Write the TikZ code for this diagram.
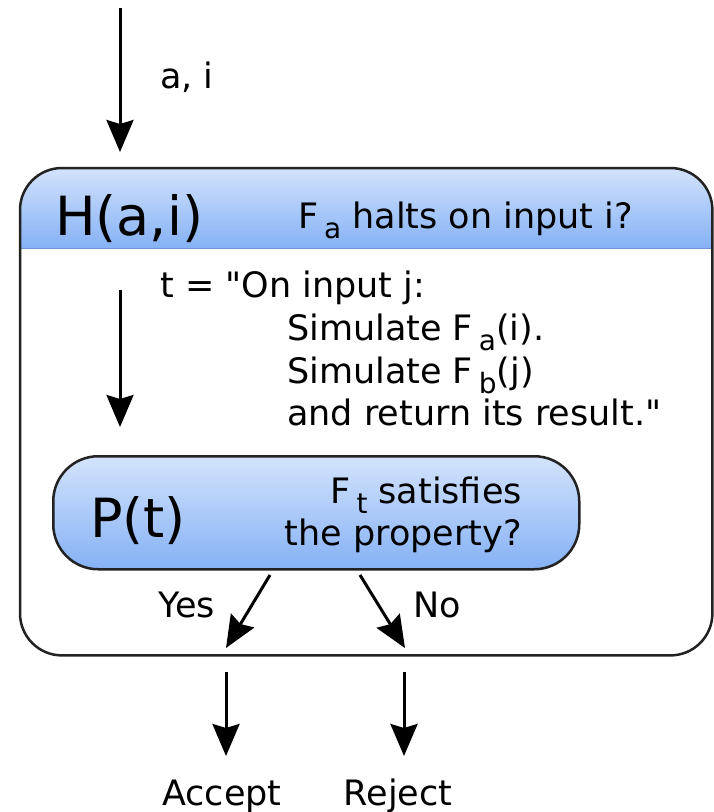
\documentclass[tikz,border=0pt]{standalone}
\usepackage{fontspec}
\setmainfont{DejaVu Sans}
\usetikzlibrary{arrows.meta}

\definecolor{hdtop}{HTML}{D3E3FC}
\definecolor{hdbot}{HTML}{85B1F5}
\definecolor{edge}{HTML}{222222}
\newcommand{\lowsub}[1]{\raisebox{-0.3em}{\fontsize{28}{30}\selectfont #1}}

\begin{document}
\begin{tikzpicture}[x=1pt,y=-1pt,
  arr/.style={line width=3pt,-{Stealth[length=32pt,width=27pt,inset=4pt]}},
  txt/.style={font=\fontsize{35}{40}\selectfont,anchor=base west,inner sep=0pt},
  big/.style={font=\fontsize{54}{60}\selectfont,anchor=base west,inner sep=0pt}]
\useasboundingbox (0,0) rectangle (714,812);
\node[inner sep=0pt,minimum width=692pt,minimum height=487pt,anchor=north west]
  (hbox) at (20,168) {};
\begin{scope}
  \clip[rounded corners=42pt] (hbox.north west) rectangle (hbox.south east);
  \shade[top color=hdtop,bottom color=hdbot]
    (hbox.north west) rectangle ([yshift=-80pt]hbox.north east);
\end{scope}
\draw[hdbot!85!black,line width=1pt]
  ([yshift=-80pt]hbox.north west) -- ([yshift=-80pt]hbox.north east);
\draw[edge,line width=2.5pt,rounded corners=42pt] (hbox.north west) rectangle (hbox.south east);
\node[draw=edge,line width=2.5pt,rounded corners=45pt,top color=hdtop,bottom color=hdbot,
  inner sep=0pt,minimum width=526pt,minimum height=113pt,anchor=north west]
  (pbox) at (52,455) {};
\node[txt] (ai) at (160,88) {a, i};
\node[big] (hname) at (55,235) {H(a,i)};
\node[txt] (hq) at (298,228) {F\,\lowsub{a} halts on input i?};
\node[txt] (t0) at (160,297) {t = \textquotedbl On input j:};
\node[txt] (t1) at (287,340) {Simulate F\,\lowsub{a}(i).};
\node[txt] (t2) at (287,383) {Simulate F\,\lowsub{b}(j)};
\node[txt] (t3) at (287,425) {and return its result.\textquotedbl};
\node[big] (pname) at (90,537) {P(t)};
\node[txt,anchor=base east] (pq1) at (522,503) {F\,\lowsub{t} satisfies};
\node[txt,anchor=base east] (pq2) at (522,545) {the property?};
\node[txt,anchor=base east] (yes) at (215,617) {Yes};
\node[txt] (no) at (413,617) {No};
\node[txt,anchor=base] (acc) at (222,805) {Accept};
\node[txt,anchor=base] (rej) at (398,805) {Reject};
% arrows
\coordinate (inA) at (120,8);
\coordinate (inB) at (120,152);
\coordinate (tA) at (120,290);
\coordinate (tB) at (120,427);
\coordinate (yesA) at (270,575);
\coordinate (yesB) at (226,648);
\coordinate (noA) at (360,575);
\coordinate (noB) at (405,648);
\coordinate (accA) at (226,672);
\coordinate (rejA) at (404,672);
\draw[arr] (inA) -- (inB);
\draw[arr] (tA) -- (tB);
\draw[arr] (yesA) -- (yesB);
\draw[arr] (noA) -- (noB);
\draw[arr] (accA) -- (accA |- 0,756);
\draw[arr] (rejA) -- (rejA |- 0,756);
\end{tikzpicture}
\end{document}
